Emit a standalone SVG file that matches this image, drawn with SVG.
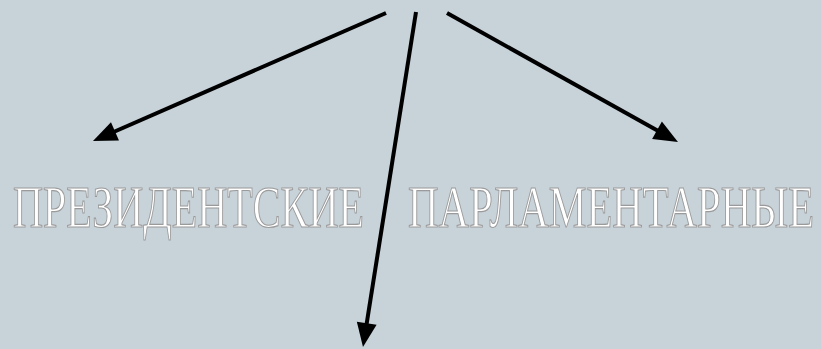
<svg xmlns="http://www.w3.org/2000/svg" width="821" height="349" viewBox="0 0 821 349">
<defs>
<marker id="ah" markerUnits="userSpaceOnUse" markerWidth="24" markerHeight="20" refX="4" refY="10" orient="auto" overflow="visible">
<path d="M0,0 L24,10 L0,20 z" fill="#000"/>
</marker>
<style>
.lbl{font-family:"Liberation Serif","Times New Roman",serif;font-size:40px;fill:#fff;stroke:#9a9a9a;stroke-width:0.8}
.con{stroke:#000;stroke-width:4;fill:none;marker-end:url(#ah)}
</style>
</defs>
<rect width="821" height="349" fill="#c7d2d9"/>
<g id="connectors">
<line class="con" x1="386" y1="13" x2="111.3" y2="133"/>
<line class="con" x1="416" y1="12" x2="366.1" y2="327.2"/>
<line class="con" x1="447" y1="13" x2="660.5" y2="132.3"/>
</g>
<g id="presidential" transform="translate(13,227) scale(1,1.475)">
<text class="lbl" x="0" y="0" textLength="351" lengthAdjust="spacingAndGlyphs">ПРЕЗИДЕНТСКИЕ</text>
</g>
<g id="parliamentary" transform="translate(408,227) scale(1,1.475)">
<text class="lbl" x="0" y="0" textLength="406" lengthAdjust="spacingAndGlyphs">ПАРЛАМЕНТАРНЫЕ</text>
</g>
</svg>
